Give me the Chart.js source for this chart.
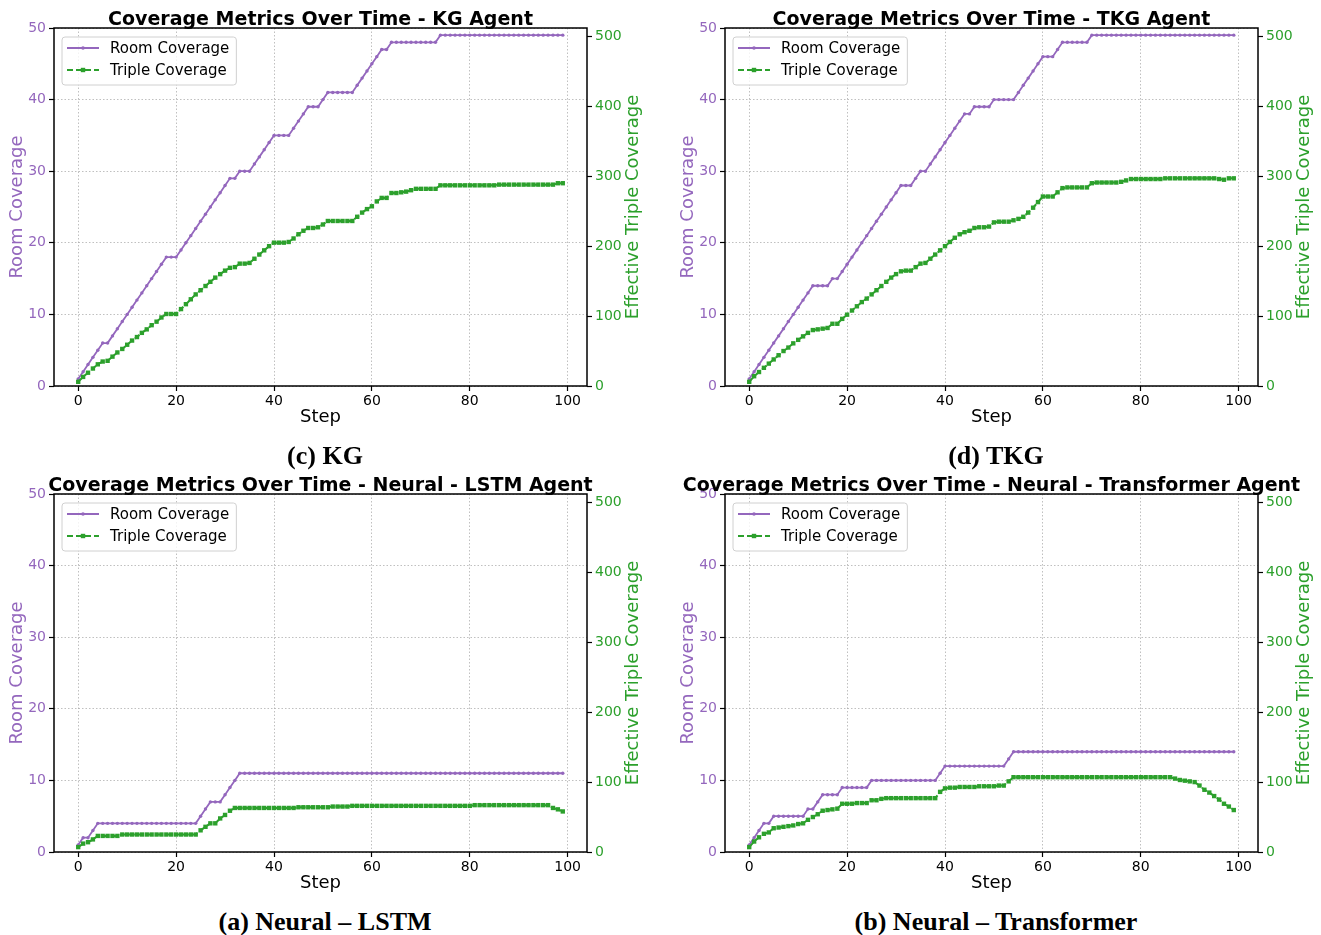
<!DOCTYPE html>
<html>
<head>
<meta charset="utf-8">
<script src="https://cdn.jsdelivr.net/npm/chart.js@4.4.0/dist/chart.umd.min.js"></script>
<style>
html, body { margin: 0; padding: 0; background: #fff; overflow: hidden; width: 1321px; height: 935px; }
.panel { position: absolute; width: 660px; height: 435px; }
.caption { position: absolute; font-family: "Liberation Serif", "Times New Roman", serif; font-weight: bold;
  font-size: 26px; line-height: 26px; transform: translateX(-50%); white-space: nowrap; color: #000; }
</style>
</head>
<body>
<div class="panel" style="left:0;top:0"><canvas id="kg" width="660" height="435"></canvas></div>
<div class="panel" style="left:671px;top:0"><canvas id="tkg" width="660" height="435"></canvas></div>
<div class="panel" style="left:0;top:466px"><canvas id="lstm" width="660" height="435"></canvas></div>
<div class="panel" style="left:671px;top:466px"><canvas id="trans" width="660" height="435"></canvas></div>
<div class="caption" style="left:325px;top:443px">(c) KG</div>
<div class="caption" style="left:996px;top:443px">(d) TKG</div>
<div class="caption" style="left:325px;top:909px">(a) Neural – LSTM</div>
<div class="caption" style="left:996px;top:909px">(b) Neural – Transformer</div>
<script>
// steps 0..99
var steps = Array.from({ length: 100 }, function(_, i) { return i; });
var xTicks = [0, 20, 40, 60, 80, 100];
var roomTicks = [0, 10, 20, 30, 40, 50];
var tripleTicks = [0, 100, 200, 300, 400, 500];

var kgRoom = [1, 2, 3, 4, 5, 6, 6, 7, 8, 9, 10, 11, 12, 13, 14, 15, 16, 17, 18, 18, 18,
  19, 20, 21, 22, 23, 24, 25, 26, 27, 28, 29, 29, 30, 30, 30,
  31, 32, 33, 34, 35, 35, 35, 35, 36, 37, 38, 39, 39, 39, 40,
  41, 41, 41, 41, 41, 41, 42, 43, 44, 45, 46, 47, 47,
  48, 48, 48, 48, 48, 48, 48, 48, 48, 48,
  49, 49, 49, 49, 49, 49, 49, 49, 49, 49, 49, 49, 49, 49, 49, 49, 49, 49, 49, 49, 49, 49, 49, 49, 49, 49];
var kgTriple = [6, 13, 19, 25, 31, 35, 36, 42, 48, 53, 59, 65, 70, 76, 81, 87, 92, 98, 103, 103, 103,
  110, 117, 124, 131, 137, 143, 149, 155, 160, 165, 169, 170, 175, 175, 176,
  182, 188, 194, 200, 205, 205, 205, 206, 211, 217, 222, 226, 226, 227, 231,
  236, 236, 236, 236, 236, 236, 242, 248, 253, 257, 264, 269, 269,
  276, 276, 277, 278, 280, 282, 282, 282, 282, 282,
  287, 287, 287, 287, 287, 287, 287, 287, 287, 287, 287, 287,
  288, 288, 288, 288, 288, 288, 288, 288, 288, 288, 288, 288, 290, 290];

var tkgRoom = [1, 2, 3, 4, 5, 6, 7, 8, 9, 10, 11, 12, 13, 14, 14, 14, 14, 15, 15,
  16, 17, 18, 19, 20, 21, 22, 23, 24, 25, 26, 27, 28, 28, 28, 29, 30, 30,
  31, 32, 33, 34, 35, 36, 37, 38, 38, 39, 39, 39, 39, 40, 40, 40, 40, 40,
  41, 42, 43, 44, 45, 46, 46, 46, 47, 48, 48, 48, 48, 48, 48,
  49, 49, 49, 49, 49, 49, 49, 49, 49, 49, 49, 49, 49, 49, 49, 49, 49, 49, 49, 49, 49, 49, 49, 49, 49, 49, 49, 49, 49, 49];
var tkgTriple = [6, 14, 20, 26, 32, 38, 44, 50, 55, 61, 66, 71, 76, 80, 81, 82, 83, 89, 89,
  96, 102, 108, 114, 120, 125, 131, 137, 143, 149, 155, 160, 164, 165, 165, 170, 175, 176,
  182, 188, 194, 200, 206, 212, 217, 220, 222, 226, 227, 227, 228, 234, 235, 235, 235, 237,
  239, 242, 248, 255, 263, 271, 271, 271, 277, 283, 284, 284, 284, 284, 284,
  290, 291, 291, 291, 291, 291, 292, 294, 296, 296, 296, 296, 296, 296, 296,
  297, 297, 297, 297, 297, 297, 297, 297, 297, 297, 297, 296, 295, 297, 297];

var lstmRoom = [1, 2, 2, 3, 4, 4, 4, 4, 4, 4, 4, 4, 4, 4, 4, 4, 4, 4, 4, 4, 4, 4, 4, 4, 4,
  5, 6, 7, 7, 7, 8, 9, 10,
  11, 11, 11, 11, 11, 11, 11, 11, 11, 11, 11, 11, 11, 11, 11, 11, 11, 11, 11, 11, 11, 11, 11, 11, 11, 11,
  11, 11, 11, 11, 11, 11, 11, 11, 11, 11, 11, 11, 11, 11, 11, 11, 11, 11, 11, 11, 11, 11, 11, 11, 11, 11,
  11, 11, 11, 11, 11, 11, 11, 11, 11, 11, 11, 11, 11, 11, 11, 11, 11];
var lstmTriple = [7, 12, 14, 18, 23, 23, 23, 23, 23,
  25, 25, 25, 25, 25, 25, 25, 25, 25, 25, 25, 25, 25, 25, 25, 25,
  31, 36, 41, 41, 48, 53, 59, 63,
  63, 63, 63, 63, 63, 63, 63, 63, 63, 63, 63, 63,
  64, 64, 64, 64, 64, 64, 64, 65, 65, 65, 65,
  66, 66, 66, 66, 66, 66, 66, 66, 66, 66, 66, 66, 66, 66, 66, 66, 66, 66, 66, 66, 66, 66, 66, 66, 66,
  67, 67, 67, 67, 67, 67, 67, 67, 67, 67, 67, 67, 67, 67, 67, 67, 63, 61, 58];

var transRoom = [1, 2, 3, 4, 4, 5, 5, 5, 5, 5, 5, 5, 6, 6, 7, 8, 8, 8, 8,
  9, 9, 9, 9, 9, 9, 10, 10, 10, 10, 10, 10, 10, 10, 10, 10, 10, 10, 10, 10,
  11, 12, 12, 12, 12, 12, 12, 12, 12, 12, 12, 12, 12, 12, 13,
  14, 14, 14, 14, 14, 14, 14, 14, 14, 14, 14, 14, 14, 14, 14, 14, 14, 14, 14, 14, 14, 14, 14,
  14, 14, 14, 14, 14, 14, 14, 14, 14, 14, 14, 14, 14, 14, 14, 14, 14, 14, 14, 14, 14, 14, 14];
var transTriple = [7, 15, 21, 26, 28, 34, 35, 36, 37, 38, 40, 41, 46, 50, 54, 59, 60, 61, 62,
  69, 69, 69, 70, 70, 70, 74, 74, 76, 77, 77, 77, 77, 77, 77, 77, 77, 77, 77, 77,
  86, 91, 92, 92, 93, 93, 93, 93, 94, 94, 94, 94, 95, 95, 101,
  107, 107, 107, 107, 107, 107, 107, 107, 107, 107, 107, 107, 107, 107, 107, 107, 107, 107, 107, 107, 107,
  107, 107, 107, 107, 107, 107, 107, 107, 107, 107, 107, 107,
  105, 103, 102, 101, 100, 95, 89, 85, 80, 75, 69, 65, 60];

var purple = '#9467bd';
var green = '#2ca02c';
var gridColor = 'rgba(150,150,150,0.75)';
var sans = 'DejaVu Sans';

function pts(vals) {
  return vals.map(function(v, i) { return { x: steps[i], y: v }; });
}

function setTicks(list) {
  return function(scale) { scale.ticks = list.map(function(v) { return { value: v }; }); };
}

// frame, title over the plot area, right axis title and legend
var extras = {
  id: 'extras',
  afterDatasetsDraw: function(chart, args, opts) {
    var ctx = chart.ctx, ca = chart.chartArea;
    ctx.save();
    ctx.strokeStyle = '#000';
    ctx.lineWidth = 1.5;
    ctx.strokeRect(ca.left, ca.top, ca.right - ca.left, ca.bottom - ca.top);

    ctx.fillStyle = '#000';
    ctx.font = 'bold 19px "' + sans + '"';
    ctx.textAlign = 'center';
    ctx.textBaseline = 'alphabetic';
    ctx.fillText(opts.title, (ca.left + ca.right) / 2, 25);

    // right axis title, reading bottom to top
    ctx.fillStyle = green;
    ctx.font = '18px "' + sans + '"';
    ctx.textBaseline = 'middle';
    ctx.translate(633, (ca.top + ca.bottom) / 2);
    ctx.rotate(-Math.PI / 2);
    ctx.fillText('Effective Triple Coverage', 0, 0);
    ctx.restore();

    // legend
    ctx.save();
    ctx.font = '15px "' + sans + '"';
    var items = chart.data.datasets;
    var tw = Math.max.apply(null, items.map(function(d) { return ctx.measureText(d.label).width; }));
    var lx = ca.left + 8, ly = ca.top + 9, w = 48 + tw + 7, h = 48;
    ctx.beginPath();
    ctx.roundRect(lx, ly, w, h, 3);
    ctx.fillStyle = 'rgba(255,255,255,0.8)';
    ctx.fill();
    ctx.strokeStyle = '#d0d0d0';
    ctx.lineWidth = 1;
    ctx.stroke();
    items.forEach(function(d, i) {
      var y = ly + 11 + i * 22;
      ctx.strokeStyle = d.borderColor;
      ctx.lineWidth = 2;
      ctx.setLineDash(d.borderDash || []);
      ctx.beginPath();
      ctx.moveTo(lx + 5, y);
      ctx.lineTo(lx + 37, y);
      ctx.stroke();
      ctx.setLineDash([]);
      ctx.fillStyle = d.borderColor;
      if (d.pointStyle === 'rect') {
        ctx.fillRect(lx + 21 - 2.2, y - 2.2, 4.4, 4.4);
      } else {
        ctx.beginPath();
        ctx.arc(lx + 21, y, 1.8, 0, Math.PI * 2);
        ctx.fill();
      }
      ctx.fillStyle = '#000';
      ctx.textAlign = 'left';
      ctx.textBaseline = 'middle';
      ctx.fillText(d.label, lx + 48, y + 1);
    });
    ctx.restore();
  }
};

function makeChart(id, title, room, triple) {
  var tickFont = { family: sans, size: 14 };
  new Chart(document.getElementById(id), {
    type: 'line',
    data: {
      datasets: [{
        label: 'Room Coverage',
        data: pts(room),
        yAxisID: 'y',
        borderColor: purple,
        backgroundColor: purple,
        borderWidth: 1.8,
        pointStyle: 'circle',
        pointRadius: 1.7,
        pointBorderWidth: 0,
        order: 1
      }, {
        label: 'Triple Coverage',
        data: pts(triple),
        yAxisID: 'y2',
        borderColor: green,
        backgroundColor: green,
        borderWidth: 2,
        borderDash: [6, 3],
        pointStyle: 'rect',
        pointRadius: 3.1,
        pointBorderWidth: 0,
        order: 0
      }]
    },
    options: {
      responsive: false,
      animation: false,
      layout: { padding: { top: 28 } },
      plugins: {
        legend: { display: false },
        tooltip: { enabled: false },
        title: { display: false },
        extras: { title: title }
      },
      scales: {
        x: {
          type: 'linear',
          min: -4.95,
          max: 103.95,
          afterBuildTicks: setTicks(xTicks),
          afterFit: function(s) { s.height = 49; },
          ticks: { color: '#000', font: tickFont, padding: 2, maxRotation: 0, autoSkip: false },
          grid: { color: gridColor, lineWidth: 0.8, tickColor: '#000', tickLength: 5, tickWidth: 1.2 },
          border: { display: false, dash: [1.5, 2] },
          title: { display: true, text: 'Step', color: '#000', font: { family: sans, size: 18 }, padding: { top: 0, bottom: 7 } }
        },
        y: {
          position: 'left',
          min: 0,
          max: 50,
          afterBuildTicks: setTicks(roomTicks),
          afterFit: function(s) { s.width = 54; },
          ticks: { color: purple, font: tickFont, padding: 3 },
          grid: { color: gridColor, lineWidth: 0.8, tickColor: '#000', tickLength: 5, tickWidth: 1.2 },
          border: { display: false, dash: [1.5, 2] },
          title: { display: true, text: 'Room Coverage', color: purple, font: { family: sans, size: 18 }, padding: { top: 6.7, bottom: 0 } }
        },
        y2: {
          position: 'right',
          min: 0,
          max: 512,
          afterBuildTicks: setTicks(tripleTicks),
          afterFit: function(s) { s.width = 73; },
          ticks: { color: green, font: tickFont, padding: 3 },
          grid: { drawOnChartArea: false, tickColor: '#000', tickLength: 5, tickWidth: 1.2 },
          border: { display: false }
        }
      }
    },
    plugins: [extras]
  });
}

makeChart('kg', 'Coverage Metrics Over Time - KG Agent', kgRoom, kgTriple);
makeChart('tkg', 'Coverage Metrics Over Time - TKG Agent', tkgRoom, tkgTriple);
makeChart('lstm', 'Coverage Metrics Over Time - Neural - LSTM Agent', lstmRoom, lstmTriple);
makeChart('trans', 'Coverage Metrics Over Time - Neural - Transformer Agent', transRoom, transTriple);
</script>
</body>
</html>
